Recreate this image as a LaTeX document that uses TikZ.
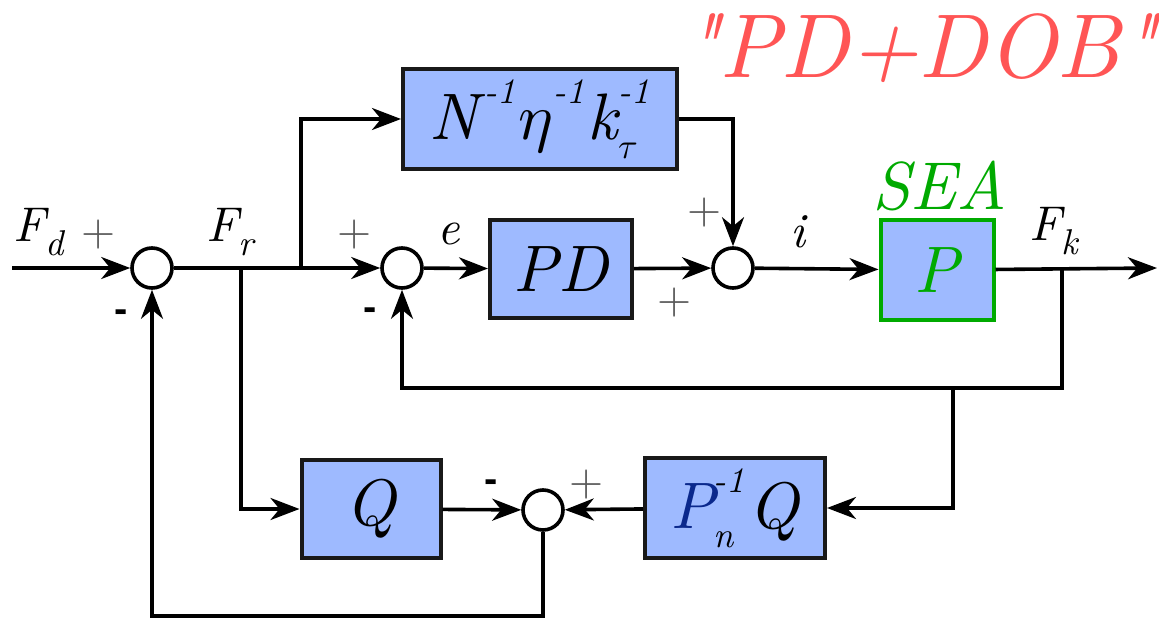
\documentclass[tikz,border=0pt]{standalone}
\usepackage{fontspec}
\setmainfont{lmroman10-regular.otf}[ItalicFont=lmroman10-italic.otf, BoldFont=lmroman10-bold.otf, Ligatures=TeXOff]
\newfontfamily\greekfont{latinmodern-math.otf}
\newfontfamily\minusfont{Liberation Sans}
\usetikzlibrary{arrows.meta}
\definecolor{boxblue}{RGB}{158,186,255}
\definecolor{seagreen}{RGB}{0,170,0}
\definecolor{titlered}{RGB}{255,85,85}
\definecolor{pnblue}{RGB}{10,40,140}
\newcommand{\mysup}[1]{\raisebox{0.55em}{\fontsize{36}{38}\selectfont #1}}
\newcommand{\mysub}[1]{\raisebox{-0.28em}{\fontsize{36}{38}\selectfont #1}}
\newcommand{\mysupsub}[2]{\rlap{\mysub{#2}}\mysup{#1}}
\begin{document}
\begin{tikzpicture}[x=1bp,y=-1bp,
  line width=3.6bp,
  blk/.style={draw=black!90, line width=4bp, fill=boxblue, inner sep=0pt,
    font=\fontsize{66}{70}\selectfont\itshape},
  sumc/.style={circle, draw=black, line width=3.6bp, fill=white, minimum size=40bp, inner sep=0pt},
  arr/.style={-{Stealth[length=29bp,width=22bp,inset=9bp]}},
  lbl/.style={inner sep=0pt, font=\fontsize{49}{54}\selectfont\itshape},
  pls/.style={inner sep=0pt, text=black!65, font=\fontsize{44}{48}\selectfont},
  mns/.style={inner sep=0pt, font=\fontsize{40}{42}\selectfont\minusfont\bfseries},
]
\useasboundingbox (0,0) rectangle (1159,623);

% blocks
\node[blk, minimum width=274bp, minimum height=100bp] (N) at (540,119)
  {N\kern6bp\mysup{-1}\kern3bp{\greekfont 𝜂}\kern2bp\mysup{-1}\kern3bp k\kern1bp\mysupsub{-1}{\greekfont 𝜏}};
\node[blk, minimum width=142bp, minimum height=98bp] (PD) at (561,269) {PD};
\node[blk, draw=seagreen, text=seagreen, minimum width=113bp, minimum height=100bp] (P) at (937,270) {P};
\node[blk, minimum width=180bp, minimum height=100bp] (Pn) at (735,508)
  {\textcolor{pnblue}{P}\kern-2bp\mysupsub{-1}{n}\kern4bp Q};
\node[blk, minimum width=139bp, minimum height=98bp] (Q) at (371,509) {Q};

% summing junctions
\node[sumc] (s1) at (152,268) {};
\node[sumc] (s2) at (402,268) {};
\node[sumc] (s3) at (733,268) {};
\node[sumc] (s4) at (543,510) {};

% coordinates
\coordinate (in) at (12,268);
\coordinate (bFr) at (241,268);
\coordinate (bN) at (301,268);
\coordinate (bFk) at (1062,268);
\coordinate (out) at (1157,268);
\coordinate (fb1) at (1062,388);
\coordinate (fb2) at (953,388);
\coordinate (c1) at (543,616);
\coordinate (c2) at (152,616);

% connectors
\draw[arr] (in) -- (s1);
\draw (s1) -- (bN);
\draw[arr] (bN) -- (s2);
\draw[arr] (bN) |- (N);
\draw[arr] (s2) -- (PD);
\draw[arr] (PD) -- (s3);
\draw[arr] (N) -| (s3);
\draw[arr] (s3) -- (P);
\draw[arr] (P) -- (out);
\draw[arr] (bFk) -- (fb1) -| (s2);
\draw[arr] (fb2) |- (Pn);
\draw[arr] (Pn) -- (s4);
\draw[arr] (bFr) |- (Q);
\draw[arr] (Q) -- (s4);
\draw[arr] (s4) -- (c1) -- (c2) -- (s1);

% labels
\node[lbl, anchor=base west] (lFd) at (12,242) {F\mysub{d}};
\node[lbl, anchor=base west] (lFr) at (205,242) {F\mysub{r}};
\node[lbl, anchor=base] (le) at (449,245) {e};
\node[lbl, anchor=base] (li) at (798,248) {i};
\node[lbl, anchor=base west] (lFk) at (1028,241) {F\mysub{k}};
\node[inner sep=0pt, anchor=base, text=seagreen, font=\fontsize{68}{72}\selectfont\itshape] (lsea) at (940,210) {SEA};
\node[inner sep=0pt, anchor=base, text=titlered, font=\fontsize{91}{94}\selectfont\itshape] (ltitle) at (920,78) {"PD+DOB"};

\node[pls] (p1) at (99,235) {+};
\node[pls] (p2) at (355,235) {+};
\node[pls] (p3) at (705,213) {+};
\node[pls] (p4) at (675,303) {+};
\node[pls] (p5) at (587,485) {+};
\node[mns] (m1) at (121,316) {-};
\node[mns] (m2) at (370,314) {-};
\node[mns] (m3) at (491,486) {-};
\end{tikzpicture}
\end{document}
